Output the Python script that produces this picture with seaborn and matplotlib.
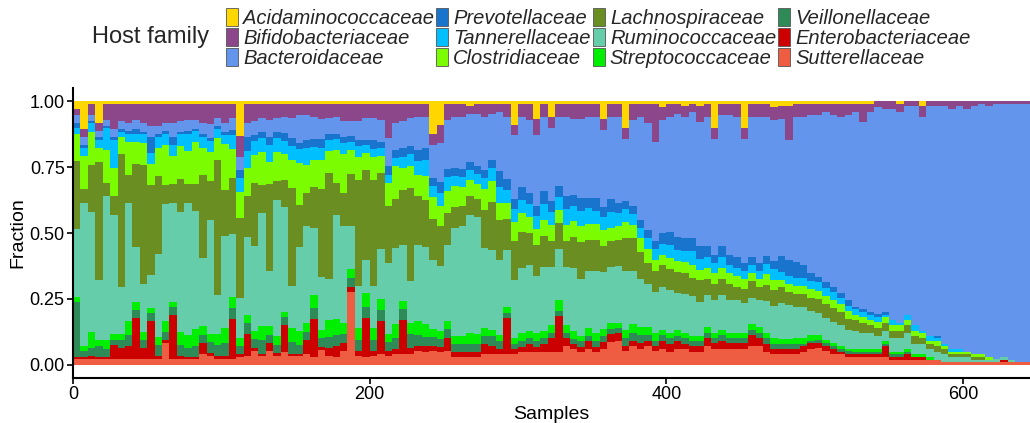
import matplotlib
matplotlib.use("Agg")
import matplotlib.pyplot as plt
from matplotlib.patches import Patch
import pandas as pd
import seaborn as sns

# samples are grouped in blocks of 5 (sorted by Bacteroidaceae share), values in %
BIN = 5
N_SAMPLES = 645

families = ["Acidaminococcaceae", "Bifidobacteriaceae", "Bacteroidaceae",
            "Prevotellaceae", "Tannerellaceae", "Clostridiaceae",
            "Lachnospiraceae", "Ruminococcaceae", "Streptococcaceae",
            "Veillonellaceae", "Enterobacteriaceae", "Sutterellaceae"]
colors = ["#FFD700", "#8B4789", "#6495ED", "#1874CD", "#00BFFF", "#7CFC00",
          "#6B8E23", "#66CDAA", "#00EE00", "#2E8B57", "#CD0000", "#EE5C42"]

acid = [3, 10, 1, 8, 1, 1, 1, 1, 1, 1, 1, 1, 1, 1, 1, 1, 1, 1, 1,
        1, 1, 1, 13, 1, 1, 1, 1, 1, 1, 1, 1, 1, 1, 1, 1, 1, 1,
        1, 1, 1, 1, 1, 1, 1, 1, 1, 1, 1, 12, 9, 1, 1, 1, 2, 1, 1,
        1, 1, 1, 9, 1, 1, 7, 1, 6, 1, 1, 1, 1, 1, 1, 7, 1, 1,
        10, 1, 1, 1, 1, 2, 1, 1, 2, 1, 2, 1, 10, 1, 1, 1, 10, 1, 1,
        1, 2, 2, 2, 1, 1, 1, 1, 1, 1, 1, 1, 1, 1, 1, 0, 0, 0,
        1, 0, 0, 2, 0, 0, 0, 0, 0, 0, 0, 0, 0, 0, 0, 0, 0, 0]
bifido = [2, 3, 4, 3, 6, 9, 6, 7, 6, 7, 8, 8, 7, 7, 6, 6, 6, 7, 7,
          5, 6, 5, 8, 7, 6, 5, 6, 5, 5, 5, 4, 4, 5, 5, 5, 5, 6,
          6, 6, 5, 5, 6, 12, 7, 6, 5, 5, 4, 4, 7, 6, 5, 5, 3, 4, 5,
          4, 3, 5, 4, 5, 6, 6, 5, 4, 5, 5, 6, 6, 5, 5, 4, 5, 5,
          4, 6, 5, 7, 14, 5, 5, 4, 4, 3, 6, 5, 4, 4, 4, 5, 4, 5, 5,
          5, 5, 5, 13, 5, 5, 4, 4, 3, 4, 5, 4, 3, 7, 3, 2, 3, 3,
          3, 2, 2, 4, 2, 2, 2, 3, 2, 3, 2, 1, 2, 1, 1, 1, 1, 1]
bacteroid = [3, 3, 2, 2, 2, 3, 3, 3, 3, 3, 4, 3, 3, 5, 4, 4, 3, 4, 5,
             3, 3, 4, 5, 5, 5, 5, 6, 5, 6, 7, 10, 9, 8, 7, 6, 6, 6,
             5, 7, 8, 8, 8, 10, 10, 10, 10, 12, 10, 12, 15, 18, 20, 20, 18, 20, 20,
             17, 22, 24, 24, 27, 28, 27, 28, 28, 27, 30, 29, 30, 31, 31, 30, 32, 33,
             23, 32, 38, 40, 37, 42, 43, 46, 46, 48, 47, 48, 43, 49, 52, 52, 46, 52, 54,
             52, 53, 53, 46, 55, 56, 59, 59, 62, 64, 66, 69, 74, 71, 76, 78, 77, 80,
             80, 79, 83, 81, 87, 87, 90, 91, 92, 92, 94, 95, 95, 96, 97, 97, 98, 98]
prevo = [2, 1, 1, 1, 1, 1, 1, 1, 2, 1, 6, 1, 1, 3, 1, 1, 1, 1, 1,
         1, 1, 2, 3, 5, 2, 2, 3, 2, 3, 3, 2, 3, 3, 3, 2, 2, 2,
         2, 2, 2, 3, 2, 3, 3, 3, 3, 4, 4, 3, 4, 3, 3, 3, 3, 3, 3,
         3, 6, 4, 4, 5, 4, 4, 5, 4, 4, 5, 4, 5, 4, 5, 4, 5, 4,
         3, 3, 3, 3, 3, 4, 5, 5, 5, 5, 5, 4, 3, 4, 4, 4, 3, 3, 3,
         3, 3, 6, 6, 6, 5, 3, 2, 2, 2, 2, 2, 1, 1, 1, 1, 1, 0,
         0, 0, 0, 0, 0, 1, 0, 0, 0, 0, 0, 0, 0, 0, 0, 0, 0, 0]
tanner = [2, 3, 3, 3, 8, 10, 2, 3, 3, 3, 4, 4, 4, 4, 4, 6, 4, 4, 4,
          3, 3, 5, 5, 6, 5, 5, 6, 5, 5, 5, 5, 6, 5, 4, 4, 4, 4,
          3, 4, 3, 3, 3, 3, 3, 4, 4, 5, 5, 4, 5, 5, 4, 4, 4, 4, 4,
          5, 6, 5, 5, 5, 5, 5, 6, 5, 5, 6, 6, 6, 6, 5, 5, 6, 5,
          5, 4, 4, 4, 4, 4, 5, 4, 4, 5, 4, 4, 4, 4, 3, 3, 3, 3, 3,
          4, 4, 3, 3, 3, 3, 3, 3, 3, 3, 2, 2, 2, 2, 2, 2, 1, 2,
          1, 2, 2, 1, 2, 1, 1, 1, 1, 0, 0, 0, 0, 0, 0, 0, 0, 0]
clostri = [10, 12, 12, 5, 12, 10, 6, 12, 8, 8, 8, 10, 15, 10, 12, 12, 15, 10, 10,
           8, 15, 10, 10, 10, 10, 12, 8, 10, 10, 10, 15, 10, 10, 10, 8, 12, 14,
           8, 8, 6, 8, 6, 8, 12, 8, 8, 8, 8, 8, 8, 8, 8, 7, 6, 6, 8,
           8, 6, 6, 7, 7, 6, 6, 6, 6, 5, 6, 6, 6, 6, 6, 6, 5, 5,
           6, 5, 5, 5, 4, 4, 4, 4, 4, 5, 4, 4, 4, 4, 4, 4, 4, 3, 3,
           4, 4, 3, 3, 3, 3, 3, 3, 3, 3, 3, 3, 2, 2, 2, 2, 2, 2,
           2, 2, 2, 2, 1, 2, 1, 1, 1, 1, 1, 1, 1, 0, 0, 0, 0, 0]
lachno = [25, 5, 17, 43, 5, 7, 48, 10, 30, 43, 33, 28, 7, 7, 12, 7, 10, 30, 14,
          48, 15, 20, 30, 15, 22, 10, 32, 7, 10, 35, 15, 12, 15, 30, 38, 12, 12,
          18, 38, 33, 38, 28, 20, 18, 20, 33, 18, 15, 15, 15, 12, 8, 8, 7, 7, 14,
          18, 15, 12, 15, 14, 12, 12, 12, 10, 10, 10, 12, 14, 12, 12, 10, 10, 10,
          12, 12, 10, 8, 8, 8, 8, 8, 8, 7, 8, 6, 6, 6, 6, 5, 5, 6, 5,
          6, 6, 6, 5, 5, 5, 5, 5, 5, 5, 5, 4, 4, 4, 3, 3, 3, 3,
          3, 3, 3, 2, 2, 2, 2, 1, 1, 1, 1, 1, 0, 0, 0, 0, 0, 0]
rumino = [25, 52, 43, 22, 53, 43, 17, 43, 20, 17, 12, 30, 43, 36, 43, 48, 43, 25, 40,
          14, 30, 22, 15, 28, 30, 40, 20, 48, 40, 15, 30, 35, 25, 18, 15, 38, 35,
          15, 15, 12, 15, 18, 25, 28, 20, 15, 28, 25, 25, 25, 28, 42, 42, 45, 45, 30,
          30, 28, 22, 22, 25, 25, 22, 24, 22, 20, 22, 24, 22, 22, 24, 22, 22, 22,
          22, 20, 18, 16, 15, 16, 16, 14, 15, 15, 13, 12, 12, 13, 12, 12, 11, 10, 10,
          12, 12, 14, 13, 12, 12, 9, 8, 8, 8, 8, 7, 7, 6, 6, 5, 4, 5,
          5, 6, 4, 4, 3, 3, 3, 2, 2, 2, 1, 1, 1, 1, 1, 1, 0, 0]
strepto = [2, 2, 6, 2, 3, 2, 2, 5, 3, 3, 2, 3, 4, 2, 5, 5, 6, 3, 3,
           4, 5, 4, 3, 3, 3, 5, 3, 3, 2, 5, 5, 3, 5, 3, 6, 6, 4,
           3, 4, 5, 4, 4, 3, 5, 3, 4, 5, 4, 3, 3, 3, 3, 3, 4, 4, 3,
           2, 2, 2, 2, 3, 3, 3, 3, 3, 4, 3, 3, 2, 3, 3, 3, 2, 2,
           3, 3, 3, 3, 3, 2, 2, 2, 2, 2, 2, 2, 2, 2, 2, 2, 2, 2, 2,
           2, 2, 2, 2, 2, 2, 2, 2, 1, 1, 1, 1, 1, 1, 1, 1, 1, 1,
           1, 1, 1, 1, 1, 0, 0, 0, 0, 0, 0, 0, 0, 0, 0, 0, 0, 0]
veillon = [20, 2, 3, 4, 3, 2, 3, 4, 3, 3, 3, 4, 3, 3, 4, 3, 4, 3, 4,
           4, 4, 4, 3, 4, 3, 5, 3, 3, 3, 4, 3, 3, 4, 3, 4, 4, 3,
           3, 4, 4, 4, 4, 3, 4, 4, 5, 4, 3, 3, 3, 3, 3, 3, 3, 3, 3,
           4, 3, 2, 2, 2, 2, 2, 2, 2, 2, 2, 2, 2, 2, 2, 2, 2, 2,
           3, 3, 3, 2, 2, 2, 2, 2, 2, 2, 2, 2, 2, 2, 2, 2, 2, 2, 2,
           2, 2, 2, 2, 2, 1, 1, 1, 1, 1, 1, 1, 1, 1, 1, 1, 1, 1,
           1, 1, 0, 0, 0, 0, 0, 0, 0, 0, 0, 0, 0, 0, 0, 0, 0, 0]
entero = [1, 1, 1, 1, 1, 5, 4, 5, 15, 4, 14, 1, 1, 16, 1, 1, 1, 4, 1,
          1, 1, 14, 1, 8, 1, 1, 3, 1, 10, 1, 1, 5, 14, 1, 3, 4, 3,
          2, 2, 14, 2, 12, 2, 2, 12, 2, 2, 2, 2, 2, 5, 2, 2, 2, 2, 4,
          3, 2, 14, 2, 2, 3, 2, 3, 5, 14, 3, 2, 2, 3, 2, 3, 3, 3,
          2, 2, 2, 2, 2, 3, 3, 3, 2, 2, 2, 3, 2, 3, 2, 2, 2, 4, 3,
          3, 2, 2, 2, 2, 2, 2, 2, 2, 2, 1, 1, 1, 1, 1, 1, 4, 1,
          1, 2, 1, 1, 0, 0, 0, 0, 0, 0, 0, 0, 0, 0, 1, 0, 0, 0]
sutter = [2, 2, 2, 2, 2, 2, 2, 2, 2, 2, 2, 2, 8, 2, 2, 2, 2, 4, 3,
          2, 2, 2, 3, 3, 5, 3, 5, 3, 5, 3, 3, 4, 3, 5, 3, 3, 5,
          25, 3, 3, 3, 4, 3, 4, 4, 4, 5, 4, 5, 5, 5, 3, 3, 3, 3, 4,
          4, 4, 4, 4, 5, 5, 5, 5, 5, 5, 7, 6, 5, 6, 5, 6, 9, 9,
          5, 7, 6, 7, 5, 6, 5, 6, 6, 5, 5, 7, 6, 6, 6, 6, 6, 7, 7,
          5, 4, 4, 4, 4, 5, 6, 6, 5, 4, 4, 3, 3, 3, 3, 3, 3, 2,
          2, 2, 2, 2, 2, 2, 1, 1, 1, 1, 1, 1, 1, 1, 1, 1, 1, 1]

series = [acid, bifido, bacteroid, prevo, tanner, clostri,
          lachno, rumino, strepto, veillon, entero, sutter]

rows = []
for fam, vals in zip(families, series):
    for i, v in enumerate(vals):
        rows.append((i * BIN + BIN / 2, fam, v))
df = pd.DataFrame(rows, columns=["sample", "family", "pct"])

sns.set_theme(style="ticks")
plt.rcParams["font.family"] = ["Liberation Sans", "DejaVu Sans"]

fig = plt.figure(figsize=(10.30, 4.23), dpi=100)
ax = fig.add_axes([73 / 1030, 45 / 423, 957 / 1030, 290 / 423])

# multiple="fill" stacks first hue level on top, like ggplot's position_fill
sns.histplot(data=df, x="sample", weights="pct", hue="family",
             hue_order=families, palette=colors, multiple="fill",
             binwidth=BIN, binrange=(0, N_SAMPLES), element="bars",
             linewidth=0, alpha=1, legend=False, ax=ax)

ax.set_xlim(0, N_SAMPLES)
ax.set_ylim(-0.05, 1.05)
ax.set_xticks([0, 200, 400, 600])
ax.set_yticks([0, 0.25, 0.5, 0.75, 1.0])
ax.set_yticklabels(["0.00", "0.25", "0.50", "0.75", "1.00"])
ax.tick_params(labelsize=13, length=4, width=1.2, color="black", labelcolor="black", pad=2)
ax.set_xlabel("Samples", fontsize=14, color="black", labelpad=2)
ax.set_ylabel("Fraction", fontsize=14, color="black", labelpad=2)
sns.despine(ax=ax)
for side in ["left", "bottom"]:
    ax.spines[side].set_linewidth(1.5)
    ax.spines[side].set_color("black")

handles = [Patch(facecolor=c, edgecolor="#555555", linewidth=0.6) for c in colors]
fig.legend(handles, families, loc="upper left", bbox_to_anchor=(226 / 1030, 1 - 8 / 423),
           ncol=4, frameon=False, prop={"style": "italic", "size": 14.5},
           handlelength=0.6, handleheight=1.0, handletextpad=0.25,
           columnspacing=0.1, labelspacing=0.0, borderpad=0, borderaxespad=0)
fig.text(92 / 1030, 1 - 37 / 423, "Host family", fontsize=17, va="center", ha="left")

fig.savefig("out.png", dpi=100)
